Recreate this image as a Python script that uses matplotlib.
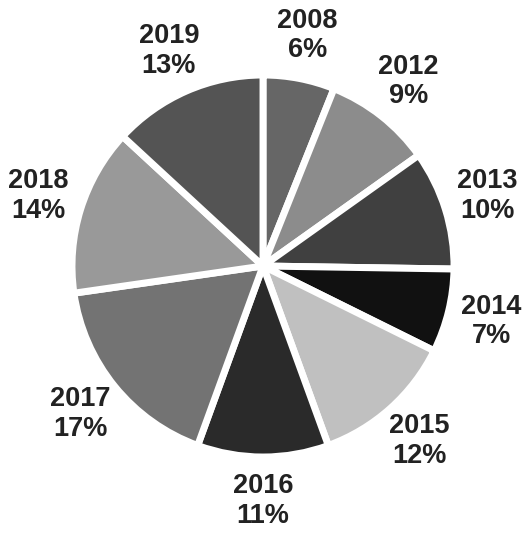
import matplotlib
matplotlib.use("Agg")
import matplotlib.pyplot as plt

years = ["2008", "2012", "2013", "2014", "2015", "2016", "2017", "2018", "2019"]
shares = [6, 9, 10, 7, 12, 11, 17, 14, 13]
colors = ["#666666", "#8c8c8c", "#404040", "#111111", "#c0c0c0",
          "#2a2a2a", "#737373", "#999999", "#545454"]

labels = [f"{y}\n{s}%" for y, s in zip(years, shares)]

W, H, DPI = 529, 536, 100
fig = plt.figure(figsize=(W / DPI, H / DPI), dpi=DPI)
ax = fig.add_axes([0, 0, 1, 1])

wedges, texts = ax.pie(
    shares, labels=labels, colors=colors, startangle=90, counterclock=False,
    labeldistance=1.23, radius=1.0,
    wedgeprops=dict(edgecolor="white", linewidth=5, joinstyle="miter"),
    textprops=dict(fontsize=19.5, fontweight="bold", color="#222222",
                   family=["Liberation Sans", "DejaVu Sans"]),
)
for t in texts:
    t.set_ha("center")
    t.set_va("center")
    t.set_linespacing(1.18)

s = 191.0
cx, cy = 263.0, 536 - 266.0
ax.set_aspect("auto")
ax.set_xlim(-cx / s, (W - cx) / s)
ax.set_ylim(-cy / s, (H - cy) / s)
ax.axis("off")

fig.savefig("out.png", dpi=DPI, facecolor="white")
